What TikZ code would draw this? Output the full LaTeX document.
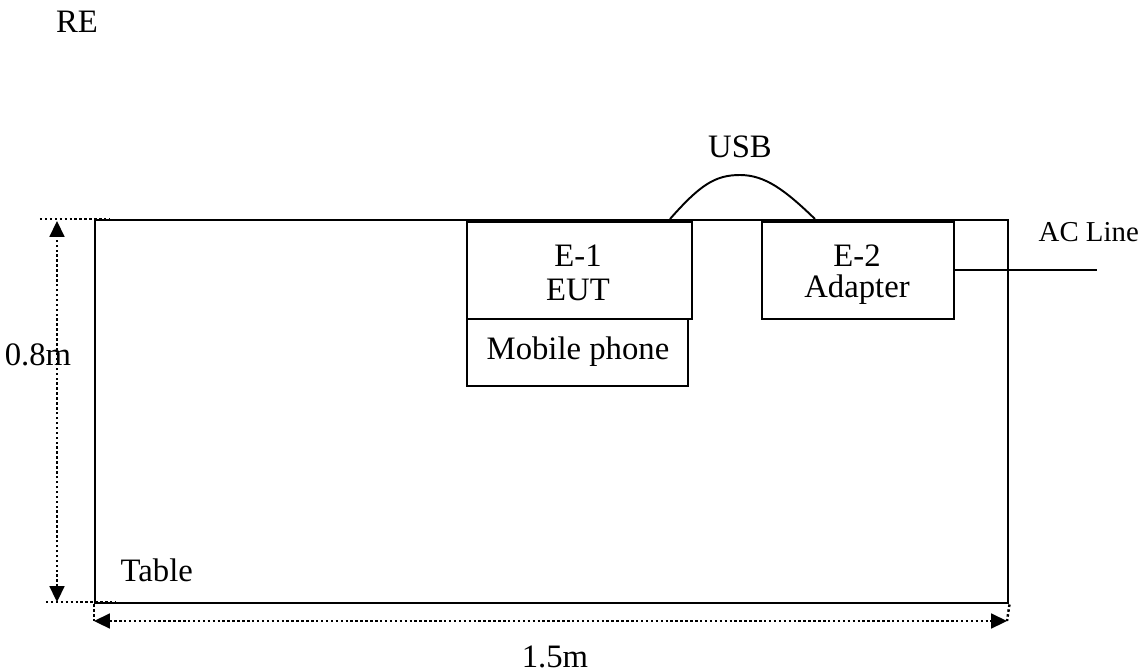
\documentclass[tikz,border=0pt]{standalone}
\usepackage{fontspec}
\setmainfont{Liberation Serif}
\usetikzlibrary{arrows.meta}
\begin{document}
\begin{tikzpicture}[x=0.01cm,y=-0.01cm,
  every node/.style={font=\fontsize{9.3}{11}\selectfont,inner sep=0pt},
  solidline/.style={line width=0.55pt},
  dimline/.style={line width=0.7pt,dash pattern=on 0.7pt off 0.7pt},
  dimarrow/.style={line width=0.7pt,dash pattern=on 0.7pt off 0.7pt,{Triangle[length=4.5pt,width=4.2pt]}-{Triangle[length=4.5pt,width=4.2pt]}},
  box/.style={draw,solidline,rectangle}]
\useasboundingbox (0,0) rectangle (1141,672);
% table
\node[box,minimum width=913*0.01cm,minimum height=383*0.01cm,anchor=north west,line width=0.7pt] (table) at (94,219) {};
% boxes
\node[box,minimum width=225*0.01cm,minimum height=97*0.01cm,anchor=north west] (e1) at (466,221) {};
\node[box,minimum width=221*0.01cm,minimum height=67*0.01cm,anchor=north west] (mp) at (466,318) {};
\node[box,minimum width=192*0.01cm,minimum height=97*0.01cm,anchor=north west] (e2) at (761,221) {};
% texts
\node (re) at (77,22) {RE};
\node (usb) at (740,147) {USB};
\node (e1a) at (578,256) {E-1};
\node (e1b) at (578,290) {EUT};
\node (e2a) at (857,256) {E-2};
\node (e2b) at (857,290) {Adapter};
\node[anchor=west] (mpt) at (486,352) {Mobile phone};
\node (h) at (38,355) {0.8m};
\node[anchor=west] (tb) at (120,570) {Table};
\node (w) at (555,657) {1.5m};
\node[anchor=west,font=\fontsize{8.2}{10}\selectfont] (ac) at (1038,232) {AC Line};
% USB cable
\coordinate (u1) at (670,219);
\coordinate (u2) at (815,219);
\draw[solidline] (u1) .. controls (700,185) and (715,175) .. (740,175) .. controls (765,175) and (785,190) .. (u2);
% AC line
\coordinate (acend) at (1097,270);
\draw[solidline] (e2.east |- acend) -- (acend);
% dimension extension lines
\coordinate (t1) at (40,219);
\coordinate (b1) at (46,602);
\coordinate (l1) at (94,621);
\coordinate (r1) at (1007,621);
\draw[dimline] (t1) -- (110,219);
\draw[dimline] (b1) -- (115,602);
\draw[dimline] (table.south west) -- (l1);
\draw[dimline] (table.south east) -- (r1);
% dimension arrows
\draw[dimarrow] (57,602) -- (57,221);
\draw[dimarrow] (l1) -- (r1);
\end{tikzpicture}
\end{document}
